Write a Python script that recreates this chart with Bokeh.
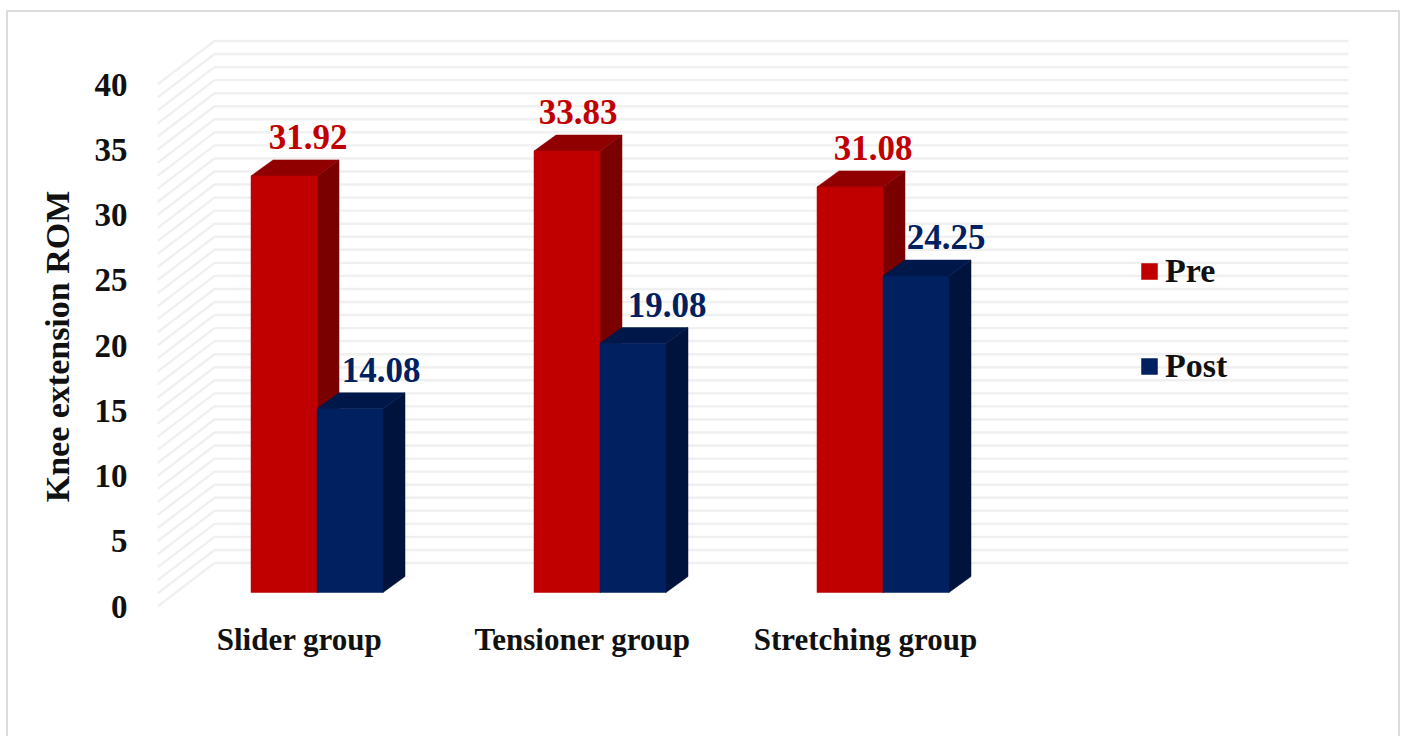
from bokeh.plotting import figure
from bokeh.models import ColumnDataSource, FixedTicker, Legend, LegendItem
from bokeh.core.properties import value
from bokeh.embed import file_html
from bokeh.resources import INLINE

groups = ["Slider group", "Tensioner group", "Stretching group"]
pre = [31.92, 33.83, 31.08]
post = [14.08, 19.08, 24.25]
y_ticks = [0, 5, 10, 15, 20, 25, 30, 35, 40]
grid_levels = list(range(0, 41))
series_names = ["Pre", "Post"]

RED, RED_TOP, RED_SIDE = "#C00000", "#900000", "#7A0000"
BLUE, BLUE_TOP, BLUE_SIDE = "#002060", "#00174A", "#00133C"
FONT = "Liberation Serif"

# projection of the 3D chart
PX_X, PX_Y = 283.0, 13.05
ML, MT = 6, 10            # figure margins (left, top)
W, H = 1394, 726
FRAME_L, FRAME_R = 155, 1394
FRAME_T, FRAME_B = 18, 670
ZERO_Y = 604
X0 = 297
x_start, x_end = (FRAME_L - X0) / PX_X, (FRAME_R - X0) / PX_X
y_start, y_end = (ZERO_Y - FRAME_B) / PX_Y, (ZERO_Y - FRAME_T) / PX_Y
wall_dx, wall_dy = 57 / PX_X, 43.5 / PX_Y
back_end = (1346 - X0) / PX_X
bar_dx, bar_dy = 22 / PX_X, 16 / PX_Y
bar_w = 66 / PX_X
bar_shift = 17.5 / PX_X
floor = 14 / PX_Y

p = figure(width=W, height=H, output_backend="svg", toolbar_location=None,
           x_range=(x_start, x_end), y_range=(y_start, y_end),
           min_border_left=FRAME_L - ML, min_border_right=ML + W - FRAME_R,
           min_border_top=FRAME_T - MT, min_border_bottom=MT + H - FRAME_B,
           background_fill_color="white", border_fill_color="white",
           outline_line_color=None)
p.margin = (MT, 0, 0, ML)
p.styles = {"border-top": "2px solid #dcdcdc", "border-left": "2px solid #dcdcdc",
            "border-right": "2px solid #dcdcdc", "box-sizing": "border-box"}
p.grid.visible = False

xs = [[x_start, x_start + wall_dx, back_end] for _ in grid_levels]
ys = [[v, v + wall_dy, v + wall_dy] for v in grid_levels]
p.multi_line(xs, ys, line_color="#F0F0F0", line_width=2.4)


def draw(vals, side, front, sidec, topc):
    l = [i + bar_shift + (-bar_w if side == 0 else 0) for i in range(len(vals))]
    r = [a + bar_w for a in l]
    t = [v + floor for v in vals]
    b = [floor] * len(vals)
    p.patches([[x1, x1 + bar_dx, x1 + bar_dx, x1] for x1 in r],
              [[floor, floor + bar_dy, yt + bar_dy, yt] for yt in t],
              fill_color=sidec, line_color=sidec, line_width=0.5)
    p.patches([[x0, x1, x1 + bar_dx, x0 + bar_dx] for x0, x1 in zip(l, r)],
              [[yt, yt, yt + bar_dy, yt + bar_dy] for yt in t],
              fill_color=topc, line_color=topc, line_width=0.5)
    return p.quad(left=l, right=r, top=t, bottom=b, fill_color=front, line_color=front, line_width=0.5)


r_pre = draw(pre, 0, RED, RED_SIDE, RED_TOP)
r_post = draw(post, 1, BLUE, BLUE_SIDE, BLUE_TOP)

lab_pre = ColumnDataSource(dict(
    x=[i + bar_shift - bar_w / 2 for i in range(3)],
    y=[v + floor for v in pre], t=[f"{v:.2f}" for v in pre], dx=[24, 11, 23]))
lab_post = ColumnDataSource(dict(
    x=[i + bar_shift + bar_w / 2 for i in range(3)],
    y=[v + floor for v in post], t=[f"{v:.2f}" for v in post], dx=[31, 34, 30]))
for src, col in ((lab_pre, RED), (lab_post, BLUE)):
    p.text(x="x", y="y", text="t", source=src, x_offset="dx", y_offset=-39,
           text_align="center", text_baseline="middle", text_color=col,
           text_font=value(FONT), text_font_style="bold", text_font_size="35px")

xa = p.xaxis[0]
xa.fixed_location = 0
xa.ticker = FixedTicker(ticks=list(range(3)))
xa.major_label_overrides = {i: g for i, g in enumerate(groups)}
xa.major_label_text_font = FONT
xa.major_label_text_font_style = "bold"
xa.major_label_text_font_size = "31px"
xa.major_label_text_color = "#111111"
xa.major_label_standoff = 9
xa.axis_line_color = None
xa.major_tick_line_color = None
xa.minor_tick_line_color = None

ya = p.yaxis[0]
ya.ticker = FixedTicker(ticks=y_ticks)
ya.major_label_text_font = FONT
ya.major_label_text_font_style = "bold"
ya.major_label_text_font_size = "33px"
ya.major_label_text_color = "#111111"
ya.major_label_standoff = 24
ya.axis_line_color = None
ya.major_tick_line_color = None
ya.minor_tick_line_color = None
ya.axis_label = "Knee extension ROM"
ya.axis_label_text_font = FONT
ya.axis_label_text_font_style = "bold"
ya.axis_label_text_font_size = "34px"
ya.axis_label_text_color = "#111111"
ya.axis_label_standoff = 16

legend = Legend(items=[LegendItem(label=series_names[0], renderers=[r_pre]),
                       LegendItem(label=series_names[1], renderers=[r_post])],
                location=(982, 287), orientation="vertical",
                background_fill_alpha=0, border_line_color=None,
                glyph_width=20, glyph_height=20, label_standoff=6,
                spacing=57, padding=0, margin=0,
                label_text_font=FONT, label_text_font_style="bold",
                label_text_font_size="34px", label_text_color="#111111")
p.add_layout(legend)

open("out.html", "w").write(file_html(p, INLINE))
